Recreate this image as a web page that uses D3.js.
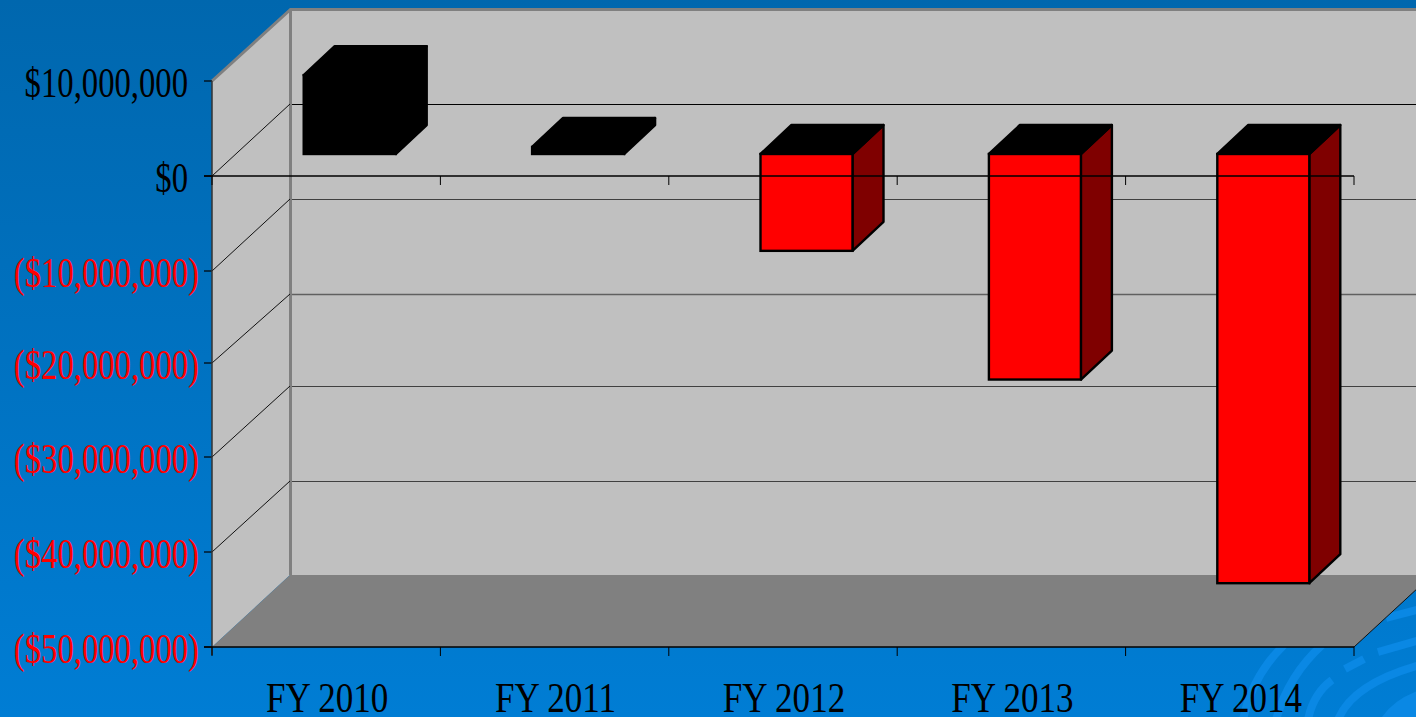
<!DOCTYPE html>
<html>
<head>
<meta charset="utf-8">
<script src="https://d3js.org/d3.v7.min.js"></script>
<style>
html,body{margin:0;padding:0;overflow:hidden;background:#0070c0}
svg{display:block}
text{font-family:"Liberation Serif","Times New Roman",serif}
</style>
</head>
<body>
<svg id="chart" width="1416" height="717"></svg>
<script>
const categories = ["FY 2010","FY 2011","FY 2012","FY 2013","FY 2014"];
const values = [8300000, 740000, -10200000, -24100000, -45600000];
const tickValues = [10000000, 0, -10000000, -20000000, -30000000, -40000000, -50000000];
const tickLabels = ["$10,000,000","$0","($10,000,000)","($20,000,000)","($30,000,000)","($40,000,000)","($50,000,000)"];

// layout of the fake-3D box
const frontTickY = [81,176,271,363,457,552,647];
const backTickY  = [9,104,199,294,386,481,575];
const left = 212, right = 1354, backLeft = 290, W = 1416, H = 717;
const barOffX = 23.5, barOffY = 22, barDepthX = 31, barDepthY = 29, barW = 92;

const svg = d3.select("#chart");
const y = d3.scaleLinear().domain(tickValues).range(frontTickY);
const yBack = d3.scaleLinear().domain(tickValues).range(backTickY);
const x = d3.scaleBand().domain(categories).range([left, right]);
const labelOf = v => tickLabels[tickValues.indexOf(v)];

// background
const defs = svg.append("defs");
const g = defs.append("linearGradient").attr("id","bg").attr("x1",0).attr("y1",0).attr("x2",0).attr("y2",1);
g.append("stop").attr("offset",0).attr("stop-color","#0067ae");
g.append("stop").attr("offset",1).attr("stop-color","#007dd4");
svg.append("rect").attr("width",W).attr("height",H).attr("fill","url(#bg)");

// decorative swirl of the slide background
const swirls = [
  "M1243,720 Q1252,676 1284,645",
  "M1276,720 Q1288,676 1322,645",
  "M1308,720 Q1313,694 1332,680",
  "M1345,669 L1364,659",
  "M1378,652 L1420,640",
  "M1386,618 L1420,609",
  "M1338,720 Q1352,684 1420,665"
];
svg.append("g").selectAll("path").data(swirls).join("path")
  .attr("d",d=>d).attr("fill","none").attr("stroke","#0a88e4").attr("stroke-width",8);
svg.append("path").attr("d","M1380,720 Q1392,700 1420,690 L1420,720 Z").attr("fill","#0a88e4");

// walls and floor
const yTop = tickValues[0], yBot = tickValues[tickValues.length-1];
const depthX = backLeft - left;
svg.append("rect").attr("x",backLeft).attr("y",yBack(yTop)).attr("width",W-backLeft+5)
  .attr("height",yBack(yBot)-yBack(yTop)).attr("fill","#c0c0c0");
svg.append("path").attr("fill","#c0c0c0")
  .attr("d",`M${left},${y(yTop)}L${backLeft},${yBack(yTop)}L${backLeft},${yBack(yBot)}L${left},${y(yBot)}Z`);
svg.append("path").attr("fill","#808080")
  .attr("d",`M${left},${y(yBot)}L${backLeft},${yBack(yBot)}L${W+5},${yBack(yBot)}L${W+5},${yBack(yBot)+(right+depthX-W-5)*(y(yBot)-yBack(yBot))/depthX}L${right+depthX},${yBack(yBot)}L${right},${y(yBot)}Z`);
// wall edges
svg.append("path").attr("fill","none").attr("stroke","#808080").attr("stroke-width",3)
  .attr("d",`M${left},${y(yTop)}L${backLeft+.5},${yBack(yTop)+.5}L${W+5},${yBack(yTop)+.5}M${backLeft+.5},${yBack(yTop)}L${backLeft+.5},${yBack(yBot)}`);

// gridlines
const gridVals = tickValues.slice(1,-1);
const grid = svg.append("g");
grid.selectAll("line.back").data(gridVals).join("line").attr("class","back")
  .attr("x1",backLeft+2).attr("x2",W).attr("y1",d=>yBack(d)+.5).attr("y2",d=>yBack(d)+.5)
  .attr("stroke",(d,i)=>i===0?"#000":(i===2?"#606060":"#404040")).attr("stroke-width",(d,i)=>i===2?1.4:1.2);
grid.selectAll("line.diag").data(gridVals).join("line").attr("class","diag")
  .attr("x1",left).attr("x2",backLeft).attr("y1",d=>y(d)).attr("y2",d=>yBack(d))
  .attr("stroke","#111").attr("stroke-width",1);

// floor right edge
svg.append("line").attr("x1",right).attr("y1",y(yBot)).attr("x2",W)
  .attr("y2",y(yBot)-(W-right)*(y(yBot)-yBack(yBot))/depthX)
  .attr("stroke","#111").attr("stroke-width",1);

// bars
const data = categories.map((c,i)=>({c,v:values[i]}));
const bars = svg.append("g").selectAll("g").data(data).join("g");
const geom = d => {
  const x0 = x(d.c) + (x.step()-barW)/2 + barOffX, x1 = x0 + barW;
  const yTopF = Math.min(y(d.v),y(0)) - barOffY, yBotF = Math.max(y(d.v),y(0)) - barOffY;
  return {x0,x1,yTopF,yBotF};
};
bars.append("path").attr("fill",d=>d.v<0?"#7f0000":"#000").attr("stroke","#000").attr("stroke-width",2.4).attr("stroke-linejoin","round")
  .attr("d",d=>{const b=geom(d);return `M${b.x1},${b.yTopF}L${b.x1+barDepthX},${b.yTopF-barDepthY}L${b.x1+barDepthX},${b.yBotF-barDepthY}L${b.x1},${b.yBotF}Z`;});
bars.append("path").attr("fill","#000").attr("stroke","#000").attr("stroke-width",2.4).attr("stroke-linejoin","round")
  .attr("d",d=>{const b=geom(d);return `M${b.x0},${b.yTopF}L${b.x0+barDepthX},${b.yTopF-barDepthY}L${b.x1+barDepthX},${b.yTopF-barDepthY}L${b.x1},${b.yTopF}Z`;});
bars.append("rect").attr("fill",d=>d.v<0?"#ff0000":"#000").attr("stroke","#000").attr("stroke-width",2.4)
  .attr("x",d=>geom(d).x0).attr("y",d=>geom(d).yTopF).attr("width",barW).attr("height",d=>{const b=geom(d);return b.yBotF-b.yTopF;});

// y axis
const yAxis = svg.append("g").attr("transform",`translate(${left},0)`)
  .call(d3.axisLeft(y).tickValues(tickValues).tickFormat(labelOf).tickSize(8).tickPadding(0));
yAxis.select(".domain").remove();
yAxis.selectAll(".tick").attr("transform",d=>`translate(0,${y(d)})`);
yAxis.selectAll(".tick line").attr("stroke","#000").attr("stroke-width",1.2).attr("y1",0).attr("y2",0);
yAxis.selectAll(".tick text")
  .attr("x",null).attr("dy",null).attr("text-anchor","end")
  .attr("font-size",43).attr("fill",d=>d<0?"#ff0000":"#000")
  .attr("transform",d=>`translate(${d<0?-13:-24},16) scale(0.76,1)`);
svg.append("line").attr("x1",left).attr("x2",left).attr("y1",y(yTop)).attr("y2",y(yBot)+8)
  .attr("stroke","#333").attr("stroke-width",1.5);

// horizontal axis lines with tick marks at category edges
const edges = categories.map(c=>x(c)).concat([right]);
[0,yBot].forEach(v=>{
  const a = svg.append("g");
  a.append("line").attr("x1",left-8).attr("x2",right).attr("y1",y(v)).attr("y2",y(v)).attr("stroke","#000").attr("stroke-width",1.5);
  a.selectAll("line.t").data(edges).join("line").attr("class","t")
    .attr("x1",d=>d).attr("x2",d=>d).attr("y1",y(v)).attr("y2",y(v)+9).attr("stroke","#000").attr("stroke-width",1);
});

// category labels
const xAxis = svg.append("g").attr("transform",`translate(0,${y(yBot)})`)
  .call(d3.axisBottom(x).tickSize(0));
xAxis.select(".domain").remove();
xAxis.selectAll(".tick text").attr("y",null).attr("dy",null)
  .attr("font-size",43).attr("fill","#000").attr("text-anchor","middle")
  .attr("transform","translate(1,65) scale(0.815,1)");
</script>
</body>
</html>
